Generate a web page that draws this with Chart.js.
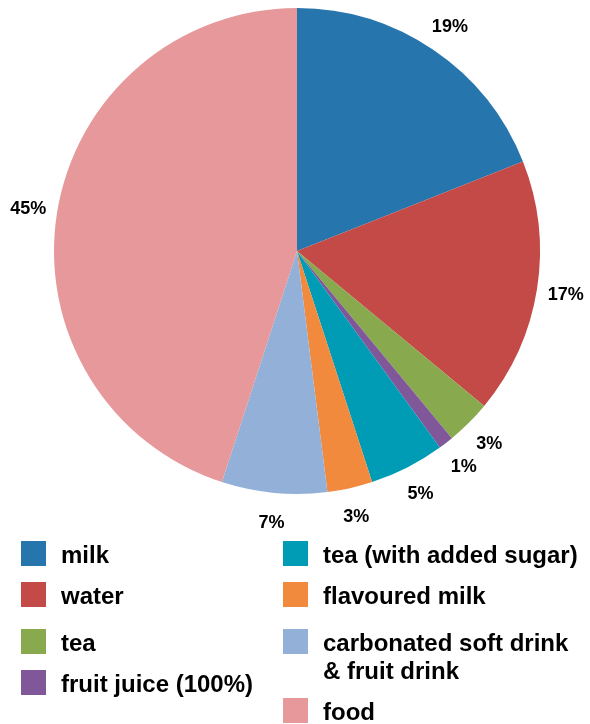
<!DOCTYPE html>
<html>
<head>
<meta charset="utf-8">
<script src="https://cdn.jsdelivr.net/npm/chart.js@4/dist/chart.umd.min.js"></script>
<style>
  html, body { margin: 0; padding: 0; background: #ffffff; }
  #wrap { position: relative; width: 590px; height: 724px; }
</style>
</head>
<body>
<div id="wrap"><canvas id="c" width="590" height="724"></canvas></div>
<script>
const categories = ["milk", "water", "tea", "fruit juice (100%)", "tea (with added sugar)", "flavoured milk", "carbonated soft drink & fruit drink", "food"];
const values = [19, 17, 3, 1, 5, 3, 7, 45];
const valueLabels = ["19%", "17%", "3%", "1%", "5%", "3%", "7%", "45%"];
const colors = ["#2675ad", "#c44a48", "#88a94d", "#80589a", "#009bb5", "#f28a3d", "#93b0d9", "#e6989b"];
const legendLines = [["milk"], ["water"], ["tea"], ["fruit juice (100%)"], ["tea (with added sugar)"], ["flavoured milk"], ["carbonated soft drink", "& fruit drink"], ["food"]];

const FONT = '"Liberation Sans", Arial, sans-serif';

const outsideLabels = {
  id: 'outsideLabels',
  afterDatasetsDraw(chart) {
    const ctx = chart.ctx;
    const meta = chart.getDatasetMeta(0);
    ctx.save();
    ctx.font = 'bold 18px ' + FONT;
    ctx.fillStyle = '#000';
    ctx.textAlign = 'center';
    ctx.textBaseline = 'middle';
    meta.data.forEach((arc, i) => {
      const p = arc.getProps(['x', 'y', 'startAngle', 'endAngle', 'outerRadius'], true);
      const mid = (p.startAngle + p.endAngle) / 2;
      const d = p.outerRadius + 29;
      ctx.fillText(valueLabels[i], p.x + Math.cos(mid) * d, p.y + Math.sin(mid) * d + 1);
    });
    ctx.restore();
  }
};

const legendSlots = [
  {x: 21, y: 541}, {x: 21, y: 582}, {x: 21, y: 629}, {x: 21, y: 670},
  {x: 283, y: 541}, {x: 283, y: 582}, {x: 283, y: 629}, {x: 283, y: 698}
];

const customLegend = {
  id: 'customLegend',
  afterDraw(chart) {
    const ctx = chart.ctx;
    ctx.save();
    ctx.font = 'bold 24px ' + FONT;
    ctx.textAlign = 'left';
    ctx.textBaseline = 'alphabetic';
    categories.forEach((cat, i) => {
      const s = legendSlots[i];
      ctx.fillStyle = colors[i];
      ctx.fillRect(s.x, s.y, 25, 25);
      ctx.fillStyle = '#000';
      legendLines[i].forEach((line, j) => {
        ctx.fillText(line, s.x + 40, s.y + 22 + j * 27.5);
      });
    });
    ctx.restore();
  }
};

new Chart(document.getElementById('c'), {
  type: 'pie',
  data: {
    labels: categories,
    datasets: [{
      data: values,
      backgroundColor: colors,
      borderWidth: 0,
      hoverOffset: 0,
      offset: 0
    }]
  },
  options: {
    responsive: false,
    animation: false,
    layout: { padding: { left: 54, right: 50, top: 8, bottom: 230 } },
    plugins: {
      legend: { display: false },
      tooltip: { enabled: false }
    }
  },
  plugins: [outsideLabels, customLegend]
});
</script>
</body>
</html>
